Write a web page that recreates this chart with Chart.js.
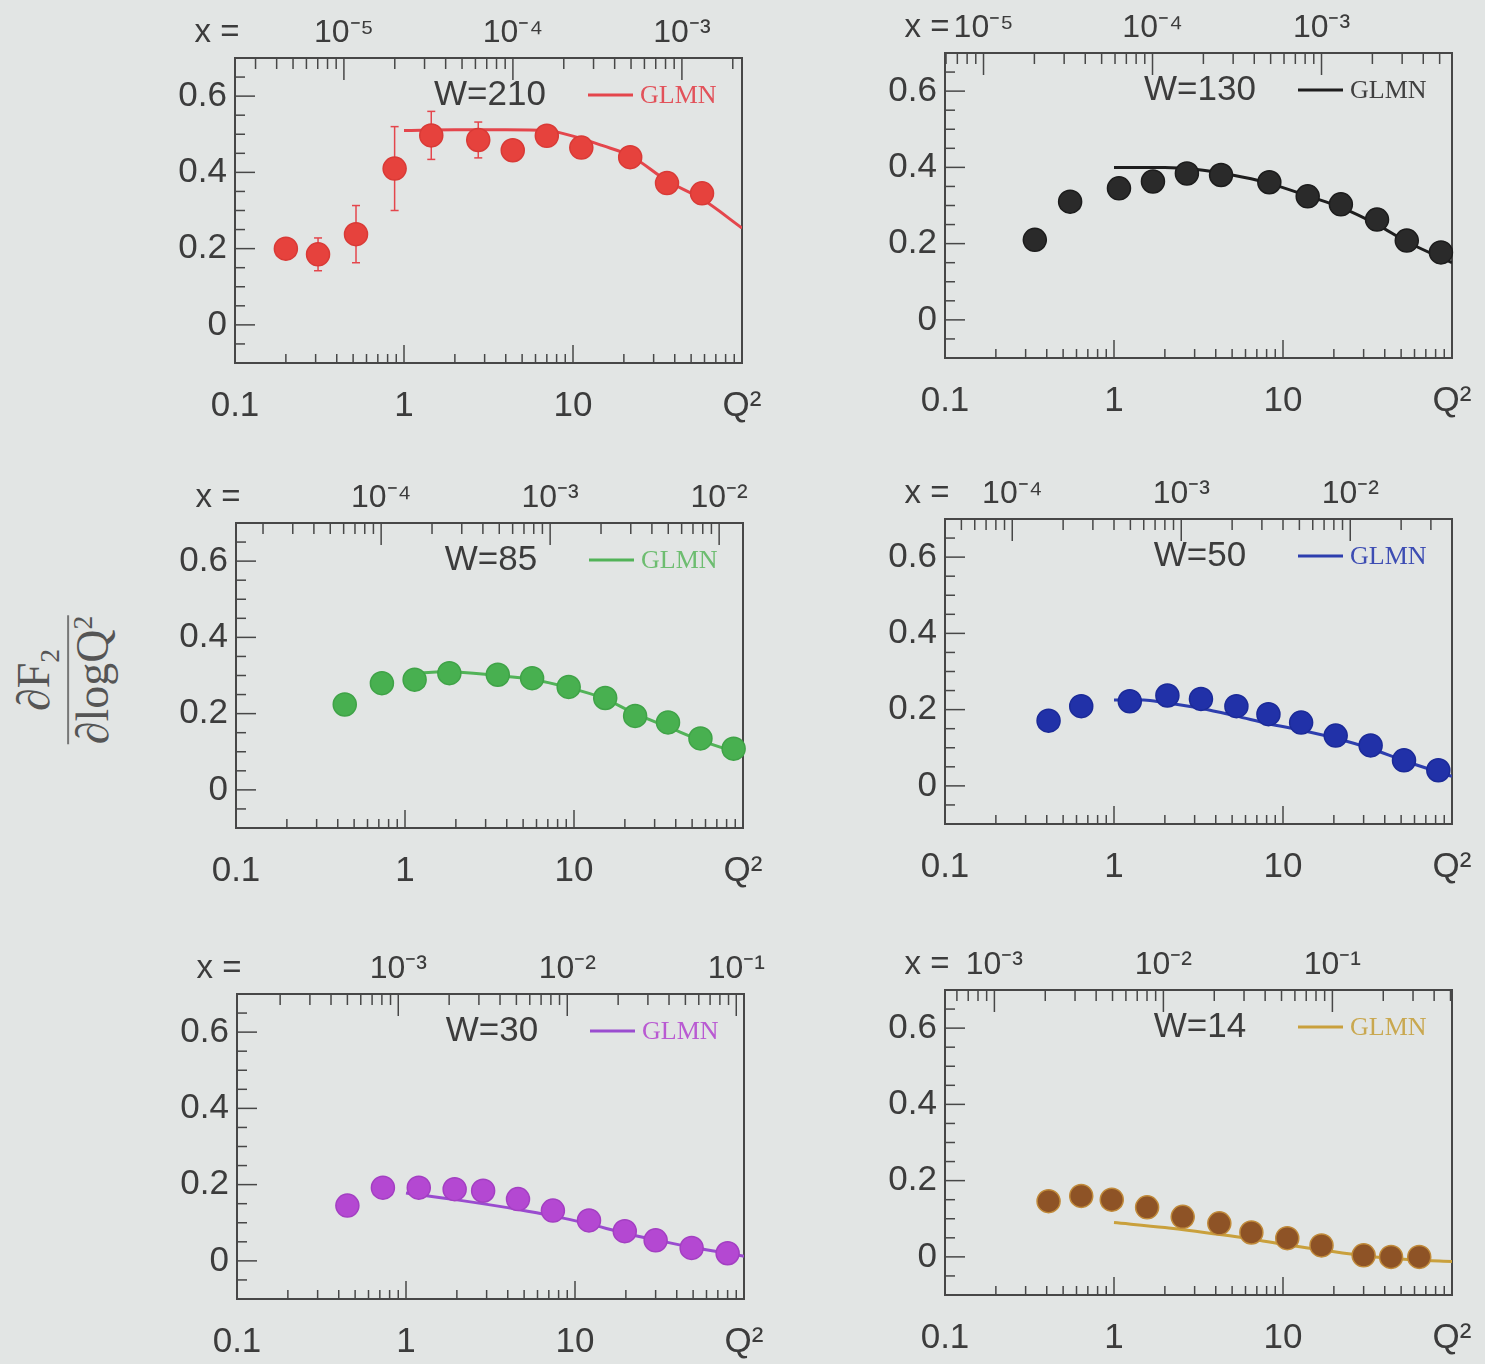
<!DOCTYPE html>
<html>
<head>
<meta charset="utf-8">
<script src="https://cdn.jsdelivr.net/npm/chart.js@4.4.1/dist/chart.umd.min.js"></script>
<style>
  body { margin: 0; background: #e2e5e4; width: 1485px; height: 1364px; overflow: hidden; position: relative; }
  canvas { position: absolute; }
  #ytitle {
    position: absolute; left: 64px; top: 680px;
    transform: translate(-50%, -50%) rotate(-90deg);
    font-family: 'Liberation Serif', 'DejaVu Serif', serif; font-size: 46px; color: #555;
    text-align: center; line-height: 1.05; white-space: nowrap;
  }
  #ytitle .num { border-bottom: 2px solid #777; padding: 0 6px 2px 6px; }
  #ytitle sub, #ytitle sup { font-size: 60%; }
</style>
</head>
<body>
<canvas id="p210" width="627" height="417" style="left:145px;top:8px"></canvas>
<canvas id="p130" width="627" height="417" style="left:855px;top:3px"></canvas>
<canvas id="p85" width="627" height="417" style="left:146px;top:473px"></canvas>
<canvas id="p50" width="627" height="417" style="left:855px;top:469px"></canvas>
<canvas id="p30" width="627" height="417" style="left:147px;top:944px"></canvas>
<canvas id="p14" width="627" height="417" style="left:855px;top:940px"></canvas>
<div id="ytitle"><div class="num">∂F<sub>2</sub></div><div>∂logQ<sup>2</sup></div></div>
<script>
// dF2/dlogQ2 data, one set per W
const q2_210 = [0.2, 0.31, 0.52, 0.88, 1.45, 2.75, 4.4, 7.0, 11.2, 21.8, 36, 58];
const f2_210 = [0.20, 0.185, 0.238, 0.41, 0.497, 0.485, 0.458, 0.496, 0.465, 0.44, 0.372, 0.345];
const err_210 = [0, 0.043, 0.075, 0.11, 0.063, 0.047, 0, 0, 0, 0, 0, 0];
const glmnQ2_210 = [1, 2, 4, 7, 10, 15, 22, 36, 58, 100];
const glmn_210 = [0.51, 0.512, 0.512, 0.51, 0.495, 0.47, 0.443, 0.378, 0.33, 0.254];

const q2_130 = [0.34, 0.55, 1.07, 1.7, 2.7, 4.3, 8.3, 14, 22, 36, 54, 86];
const f2_130 = [0.21, 0.31, 0.345, 0.363, 0.384, 0.38, 0.361, 0.324, 0.303, 0.263, 0.208, 0.177];
const glmnQ2_130 = [1, 2, 3, 5, 8, 14, 22, 36, 54, 100];
const glmn_130 = [0.40, 0.40, 0.395, 0.38, 0.36, 0.325, 0.295, 0.25, 0.205, 0.15];

const q2_85 = [0.44, 0.73, 1.14, 1.83, 3.54, 5.65, 9.3, 15.3, 23, 36, 56, 88];
const f2_85 = [0.224, 0.28, 0.289, 0.306, 0.302, 0.293, 0.27, 0.241, 0.194, 0.177, 0.135, 0.108];
const glmnQ2_85 = [1, 1.8, 3.5, 5.6, 9.3, 15, 23, 36, 56, 100];
const glmn_85 = [0.304, 0.31, 0.3, 0.29, 0.268, 0.24, 0.2, 0.165, 0.13, 0.093];

const q2_50 = [0.41, 0.64, 1.24, 2.07, 3.27, 5.3, 8.2, 12.8, 20.5, 33, 52, 83];
const f2_50 = [0.171, 0.209, 0.222, 0.237, 0.228, 0.209, 0.188, 0.166, 0.132, 0.106, 0.067, 0.041];
const glmnQ2_50 = [1, 1.5, 2, 3.3, 5.3, 8.2, 12.8, 20.5, 33, 52, 100];
const glmn_50 = [0.225, 0.225, 0.218, 0.203, 0.183, 0.163, 0.146, 0.125, 0.098, 0.066, 0.025];

const q2_30 = [0.45, 0.73, 1.19, 1.94, 2.86, 4.6, 7.4, 12.1, 19.7, 30, 49, 80];
const f2_30 = [0.145, 0.192, 0.192, 0.188, 0.184, 0.162, 0.132, 0.106, 0.078, 0.054, 0.034, 0.02];
const glmnQ2_30 = [1, 2, 4.6, 7.4, 12, 20, 30, 50, 80, 100];
const glmn_30 = [0.178, 0.16, 0.135, 0.118, 0.097, 0.072, 0.055, 0.035, 0.02, 0.012];

const q2_14 = [0.41, 0.64, 0.97, 1.57, 2.55, 4.2, 6.5, 10.6, 16.9, 30, 43.6, 64];
const f2_14 = [0.146, 0.16, 0.15, 0.13, 0.105, 0.088, 0.064, 0.049, 0.03, 0.004, 0.0, 0.0];
const glmnQ2_14 = [1, 2, 4, 6.5, 10, 17, 30, 60, 100];
const glmn_14 = [0.09, 0.077, 0.06, 0.047, 0.033, 0.018, 0.003, -0.008, -0.012];

// axes
const q2Ticks = [0.1, 1, 10, 100];
const q2TickLabels = ['0.1', '1', '10', 'Q²'];
const yTicks = [0, 0.2, 0.4, 0.6];
const yTickLabels = ['0', '0.2', '0.4', '0.6'];
const xTicksLow = [1e-5, 1e-4, 1e-3];
const xLabelsLow = ['10⁻⁵', '10⁻⁴', '10⁻³'];
const xTicksMid = [1e-4, 1e-3, 1e-2];
const xLabelsMid = ['10⁻⁴', '10⁻³', '10⁻²'];
const xTicksHigh = [1e-3, 1e-2, 1e-1];
const xLabelsHigh = ['10⁻³', '10⁻²', '10⁻¹'];

const panels = [
  { id: 'p210', w: 210, q2: q2_210, f2: f2_210, err: err_210, gq: glmnQ2_210, g: glmn_210, xt: xTicksLow, xl: xLabelsLow,
    dot: '#e6423d', edge: '#d93a36', line: '#e4464c', text: '#e2525a' },
  { id: 'p130', w: 130, q2: q2_130, f2: f2_130, gq: glmnQ2_130, g: glmn_130, xt: xTicksLow, xl: xLabelsLow,
    dot: '#2a2a2a', edge: '#1c1c1c', line: '#1e1e1e', text: '#404040' },
  { id: 'p85', w: 85, q2: q2_85, f2: f2_85, gq: glmnQ2_85, g: glmn_85, xt: xTicksMid, xl: xLabelsMid,
    dot: '#48b050', edge: '#3fa347', line: '#52b358', text: '#6dbd70' },
  { id: 'p50', w: 50, q2: q2_50, f2: f2_50, gq: glmnQ2_50, g: glmn_50, xt: xTicksMid, xl: xLabelsMid,
    dot: '#2131a8', edge: '#1b2a98', line: '#2d3eae', text: '#3d4db3' },
  { id: 'p30', w: 30, q2: q2_30, f2: f2_30, gq: glmnQ2_30, g: glmn_30, xt: xTicksHigh, xl: xLabelsHigh,
    dot: '#b448d2', edge: '#a33fc2', line: '#9a4ccf', text: '#b95ad2' },
  { id: 'p14', w: 14, q2: q2_14, f2: f2_14, gq: glmnQ2_14, g: glmn_14, xt: xTicksHigh, xl: xLabelsHigh,
    dot: '#8e5326', edge: '#c08a3a', line: '#c9a03c', text: '#c9a850' }
];

Chart.defaults.font.family = "'Liberation Sans', Arial, sans-serif";
Chart.defaults.color = '#3c3c3c';

function line(ctx, x1, y1, x2, y2) {
  ctx.beginPath();
  ctx.moveTo(x1, y1);
  ctx.lineTo(x2, y2);
  ctx.stroke();
}

// frame, inward ticks, error bars, legend
const decor = {
  id: 'decor',
  beforeDatasetsDraw(chart, args, opts) {
    const ctx = chart.ctx;
    const { left, right, top, bottom } = chart.chartArea;
    const sx = chart.scales.x, st = chart.scales.xTop, sy = chart.scales.y;
    ctx.save();
    ctx.strokeStyle = '#474747';
    ctx.lineWidth = 2;
    ctx.strokeRect(left, top, right - left, bottom - top);
    ctx.lineWidth = 1.5;
    for (let e = -1; e <= 1; e++) {
      for (let m = 1; m <= 9; m++) {
        const v = m * Math.pow(10, e);
        if (v <= 0.1 || v >= 100) continue;
        const px = sx.getPixelForValue(v);
        line(ctx, px, bottom, px, bottom - (m === 1 ? 18 : 9));
      }
    }
    const e0 = Math.floor(Math.log10(st.min)), e1 = Math.ceil(Math.log10(st.max));
    for (let e = e0; e <= e1; e++) {
      for (let m = 1; m <= 9; m++) {
        const v = m * Math.pow(10, e);
        if (v <= st.min || v >= st.max) continue;
        const px = st.getPixelForValue(v);
        line(ctx, px, top, px, top + (m === 1 ? 22 : 11));
      }
    }
    for (let k = -1; k <= 13; k++) {
      const py = sy.getPixelForValue(k * 0.05);
      line(ctx, left, py, left + (k % 4 === 0 ? 20 : 10), py);
    }
    // error bars
    const p = opts.panel;
    if (p.err) {
      ctx.strokeStyle = p.line;
      ctx.lineWidth = 1.5;
      p.err.forEach((e, i) => {
        if (!e) return;
        const px = sx.getPixelForValue(p.q2[i]);
        const y1 = sy.getPixelForValue(p.f2[i] + e), y2 = sy.getPixelForValue(p.f2[i] - e);
        line(ctx, px, y1, px, y2);
        line(ctx, px - 4, y1, px + 4, y1);
        line(ctx, px - 4, y2, px + 4, y2);
      });
    }
    ctx.restore();
  },
  afterDraw(chart, args, opts) {
    const ctx = chart.ctx;
    const { left, top } = chart.chartArea;
    const p = opts.panel;
    const ly = top + 37;
    ctx.save();
    ctx.textBaseline = 'middle';
    ctx.fillStyle = '#3c3c3c';
    ctx.font = "35px 'Liberation Sans', Arial, sans-serif";
    ctx.textAlign = 'center';
    ctx.fillText('W=' + p.w, left + 255, ly);
    ctx.font = "33px 'Liberation Sans', Arial, sans-serif";
    ctx.fillText('x =', left - 18, top - 25);
    ctx.strokeStyle = p.line;
    ctx.lineWidth = 3;
    line(ctx, left + 353, ly, left + 398, ly);
    ctx.fillStyle = p.text;
    ctx.textAlign = 'left';
    ctx.font = "26px 'Liberation Serif', serif";
    ctx.fillText('GLMN', left + 405, ly + 1);
    ctx.restore();
  }
};

panels.forEach((p) => {
  const ctx = document.getElementById(p.id).getContext('2d');
  const w2 = p.w * p.w;
  new Chart(ctx, {
    type: 'scatter',
    data: {
      datasets: [{
        label: 'data',
        data: p.q2.map((q, i) => ({ x: q, y: p.f2[i] })),
        xAxisID: 'x', yAxisID: 'y',
        pointRadius: 11.5,
        pointBackgroundColor: p.dot,
        pointBorderColor: p.edge,
        pointBorderWidth: 1.5,
        clip: false,
        order: 0
      }, {
        label: 'GLMN',
        data: p.gq.map((q, i) => ({ x: q, y: p.g[i] })),
        xAxisID: 'x', yAxisID: 'y',
        showLine: true,
        pointRadius: 0,
        borderColor: p.line,
        borderWidth: 3,
        cubicInterpolationMode: 'monotone',
        order: 1
      }]
    },
    options: {
      responsive: false,
      animation: false,
      layout: { padding: { left: 0, top: 0, bottom: 0, right: 30 } },
      plugins: { legend: { display: false }, tooltip: { enabled: false }, decor: { panel: p } },
      scales: {
        x: {
          type: 'logarithmic', position: 'bottom', min: 0.1, max: 100,
          grid: { display: false, drawTicks: false }, border: { display: false },
          ticks: { font: { size: 35 }, padding: 22, autoSkip: false, maxRotation: 0,
                   callback: (v, i) => q2TickLabels[i] },
          afterBuildTicks: (s) => { s.ticks = q2Ticks.map(v => ({ value: v })); },
          afterFit: (s) => { s.height = 62; s.paddingLeft = 0; s.paddingRight = 0; }
        },
        xTop: {
          type: 'logarithmic', position: 'top', min: 0.1 / w2, max: 100 / w2,
          grid: { display: false, drawTicks: false }, border: { display: false },
          ticks: { font: { size: 32 }, padding: 6, autoSkip: false, maxRotation: 0,
                   callback: (v, i) => p.xl[i] },
          afterBuildTicks: (s) => { s.ticks = p.xt.map(v => ({ value: v })); },
          afterFit: (s) => { s.height = 50; s.paddingLeft = 0; s.paddingRight = 0; }
        },
        y: {
          type: 'linear', position: 'left', min: -0.1, max: 0.7,
          grid: { display: false, drawTicks: false }, border: { display: false },
          ticks: { font: { size: 35 }, padding: 8, callback: (v, i) => yTickLabels[i] },
          afterBuildTicks: (s) => { s.ticks = yTicks.map(v => ({ value: v })); },
          afterFit: (s) => { s.width = 90; s.paddingTop = 0; s.paddingBottom = 0; }
        }
      }
    },
    plugins: [decor]
  });
});
</script>
</body>
</html>
